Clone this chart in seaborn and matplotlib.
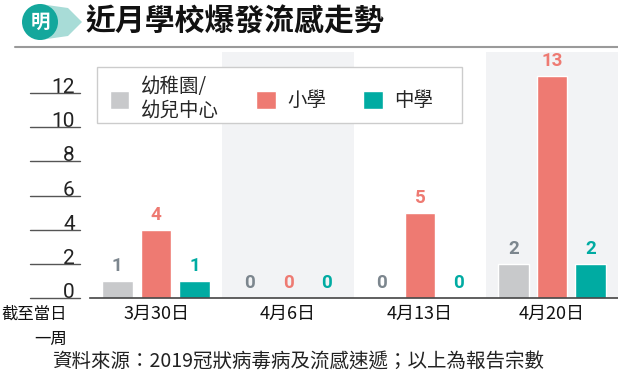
import matplotlib
matplotlib.use('Agg')
import matplotlib.pyplot as plt
import seaborn as sns
import pandas as pd
from matplotlib.patches import Circle, Polygon, Rectangle

# 資料
categories = ['3月30日', '4月6日', '4月13日', '4月20日']
kindergarten = [1, 0, 0, 2]
primary = [4, 0, 5, 13]
secondary = [1, 0, 0, 2]
series_names = ['幼稚園/\n幼兒中心', '小學', '中學']
yticks = [0, 2, 4, 6, 8, 10, 12]

title = '近月學校爆發流感走勢'
source = '資料來源：2019冠狀病毒病及流感速遞；以上為報告宗數'
xlabel_note = '截至當日\n一周'

bar_colors = ['#c8c9cb', '#ee7a72', '#00aba2']
label_colors = ['#7c868e', '#ee7a72', '#00aba2']

sns.set_theme(style='white')
plt.rcParams['font.family'] = ['Noto Sans CJK TC', 'DejaVu Sans']

df = pd.DataFrame({
    'week': categories * 3,
    'count': kindergarten + primary + secondary,
    'type': [series_names[0]] * 4 + [series_names[1]] * 4 + [series_names[2]] * 4,
})

W, H = 618, 381
fig = plt.figure(figsize=(W / 100, H / 100), dpi=100)
fig.patch.set_facecolor('white')

# 主圖
ax_l, ax_r, ax_top, ax_bot = 90, 618, 52, 298
ax = fig.add_axes([ax_l / W, (H - ax_bot) / H, (ax_r - ax_l) / W, (ax_bot - ax_top) / H])
ax.set_facecolor('white')

ax.axvspan(0.5, 1.5, color='#f2f3f5', zorder=0, lw=0)
ax.axvspan(2.5, 3.5, color='#f2f3f5', zorder=0, lw=0)

sns.barplot(data=df, x='week', y='count', hue='type', hue_order=series_names,
            palette=bar_colors, width=0.88, gap=0.2, ax=ax, zorder=2,
            saturation=1, legend=True)

for cont, c in zip(ax.containers, label_colors):
    ax.bar_label(cont, color=c, fontsize=13.5, fontweight='bold', padding=4,
                 family='Roboto')

ax.set_xlim(-0.5, 3.5)
ax.set_ylim(0, 14.4)
ax.set_xlabel('')
ax.set_ylabel('')

for s in ['top', 'right', 'left']:
    ax.spines[s].set_visible(False)
ax.spines['bottom'].set_color('#444444')
ax.spines['bottom'].set_linewidth(1.2)

ax.set_yticks(yticks)
ax.set_yticklabels([str(v) for v in yticks], va='baseline', family='Roboto',
                   fontweight='normal', fontsize=15, color='#222222')
ax.tick_params(axis='y', length=0, pad=11)
ax.tick_params(axis='x', length=0, pad=5, labelsize=13, labelcolor='#111111')
# 刻度下劃線
trans = ax.get_yaxis_transform()
for v in yticks:
    ax.plot([-0.114, -0.019], [v, v], transform=trans, color='#555555',
            lw=1, clip_on=False)

# 圖例
h, l = ax.get_legend_handles_labels()
ax.get_legend().remove()
ax.add_patch(Rectangle((0.0133, 0.7114), 0.6913, 0.2276, transform=ax.transAxes,
                       facecolor='white', edgecolor='#cccccc', lw=1, zorder=3))
leg = ax.legend(h, l, loc='upper left', bbox_to_anchor=(0.0379, 0.903), ncol=3,
                frameon=False, fontsize=14, handlelength=1.0,
                handleheight=1.0, handletextpad=0.6, columnspacing=1.9,
                borderpad=0, borderaxespad=0)
leg.set_zorder(4)

# 標題
fig.text(85 / W, 1 - 22 / H, title, fontsize=21.5, fontweight='heavy',
         va='center', ha='left', color='#111111')
fig.add_artist(plt.Line2D([15 / W, 1], [1 - 47 / H, 1 - 47 / H],
                          color='#9a9a9a', lw=1.5))

# 標誌
lax = fig.add_axes([10 / W, 1 - 42 / H, 75 / W, 40 / H])
lax.set_xlim(0, 75)
lax.set_ylim(0, 40)
lax.set_aspect('equal')
lax.axis('off')
lax.add_patch(Polygon([[30, 38], [58, 34], [72, 20], [58, 6], [30, 2]],
                      closed=True, color='#a8dcd7', lw=0))
lax.add_patch(Circle((30, 20), 18, color='#14a79c', lw=0))
lax.text(30, 20, '明', color='white', fontsize=14, fontweight='bold',
         ha='center', va='center', style='italic')

# 軸註
fig.text(67 / W, 1 - 327 / H, xlabel_note, fontsize=11.8, ha='right', va='center',
         multialignment='right', color='#111111', linespacing=1.6)

# 來源
fig.text(298 / W, 1 - 362 / H, source, fontsize=14, ha='center', va='center',
         color='#222222', fontweight='light')

fig.savefig('out.png', dpi=100)
